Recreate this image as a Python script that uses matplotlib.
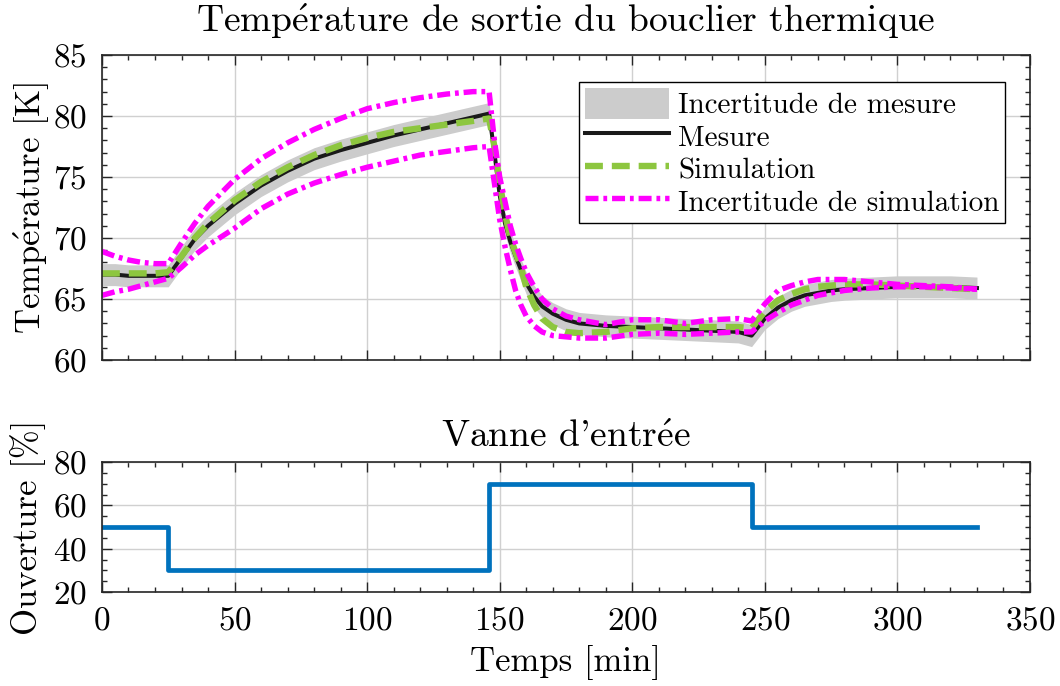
import matplotlib
matplotlib.use('Agg')
import matplotlib.pyplot as plt
from matplotlib.patches import Patch
from matplotlib.ticker import MultipleLocator

plt.rcParams['font.family'] = 'serif'
plt.rcParams['font.serif'] = ['cmr10']
plt.rcParams['mathtext.fontset'] = 'cm'
plt.rcParams['axes.formatter.use_mathtext'] = True

# temps [min]
t = [0, 5, 10, 15, 20, 25, 30, 35, 40, 50, 60, 70, 80, 90, 100, 110, 120, 130, 140, 146,
     148, 150, 152, 154, 156, 158, 160, 163, 166, 170, 175, 180, 190, 200, 210, 220, 230,
     240, 245, 250, 255, 260, 265, 270, 275, 280, 290, 300, 310, 320, 330]

mesure = [67.0, 67.0, 66.9, 66.9, 66.9, 66.9, 68.4, 69.9, 71.0, 72.8, 74.3, 75.5, 76.5, 77.2,
          77.8, 78.4, 78.9, 79.4, 79.9, 80.2,
          77.0, 73.5, 71.2, 69.7, 68.5, 67.4, 66.3, 65.2, 64.4, 63.8, 63.3, 63.0, 62.8, 62.7,
          62.6, 62.5, 62.4, 62.3, 62.0, 63.4, 64.3, 64.9, 65.3, 65.5, 65.7, 65.8, 65.9, 66.0,
          66.0, 66.0, 65.9]
incert_mesure = 0.9

simulation = [67.1, 67.1, 67.1, 67.1, 67.1, 67.2, 68.5, 70.0, 71.2, 73.1, 74.6, 75.8, 76.8,
              77.6, 78.2, 78.7, 79.0, 79.3, 79.6, 79.8,
              77.5, 74.5, 72.0, 70.0, 68.8, 67.6, 66.0, 64.5, 63.4, 62.7, 62.3, 62.2, 62.3,
              62.6, 62.7, 62.7, 62.7, 62.7, 62.6, 64.0, 64.9, 65.4, 65.8, 66.0, 66.1, 66.2,
              66.2, 66.1, 66.0, 65.9, 65.8]

sim_haut = [68.9, 68.5, 68.2, 68.0, 67.9, 67.9, 69.6, 71.2, 72.6, 74.8, 76.5, 77.8, 78.9,
            79.8, 80.6, 81.1, 81.5, 81.8, 82.0, 82.0,
            78.0, 75.0, 73.0, 71.0, 69.5, 68.3, 67.2, 66.0, 65.0, 64.2, 63.6, 63.3, 62.9,
            63.3, 63.3, 63.0, 63.3, 63.4, 63.2, 64.6, 65.7, 66.1, 66.4, 66.6, 66.6, 66.6,
            66.4, 66.2, 66.1, 66.0, 65.8]

sim_bas = [65.3, 65.6, 65.8, 66.1, 66.4, 66.7, 67.6, 68.6, 69.4, 70.8, 72.4, 73.6, 74.5,
           75.2, 75.8, 76.3, 76.8, 77.1, 77.4, 77.5,
           74.5, 71.5, 69.3, 67.4, 65.7, 64.5, 63.6, 62.8, 62.3, 62.0, 61.9, 61.8, 61.8,
           62.1, 62.2, 62.1, 62.2, 62.3, 62.3, 63.2, 63.9, 64.5, 64.9, 65.3, 65.5, 65.7,
           65.9, 66.0, 66.0, 65.9, 65.8]

# vanne d'entree
t_vanne = [0, 25, 146, 245, 330]
vanne = [50, 30, 70, 50, 50]

gris = '#cccccc'
noir = '#1a1a1a'
vert = '#8dc63f'
magenta = '#ff00ff'
bleu = '#0072bd'
tirets_sim = (2.8, 1.4)
tirets_inc = (2.4, 0.9, 0.7, 0.9)

fig = plt.figure(figsize=(10.6, 6.86), dpi=100)
ax1 = fig.add_axes([0.0962, 0.4752, 0.8755, 0.4446])
ax2 = fig.add_axes([0.0962, 0.137, 0.8755, 0.1895])

bas = [m - incert_mesure for m in mesure]
haut = [m + incert_mesure for m in mesure]
ax1.fill_between(t, bas, haut, color=gris, lw=0)
ax1.plot(t, mesure, color=noir, lw=2.9)
ax1.plot(t, simulation, color=vert, lw=4.6, dashes=tirets_sim)
ax1.plot(t, sim_haut, color=magenta, lw=3.9, dashes=tirets_inc)
ax1.plot(t, sim_bas, color=magenta, lw=3.9, dashes=tirets_inc)

handles = [Patch(facecolor=gris, edgecolor='none'),
           plt.Line2D([], [], color=noir, lw=2.9),
           plt.Line2D([], [], color=vert, lw=4.6, dashes=tirets_sim),
           plt.Line2D([], [], color=magenta, lw=3.9, dashes=tirets_inc)]
labels = ['Incertitude de mesure', 'Mesure', 'Simulation', 'Incertitude de simulation']
leg = ax1.legend(handles, labels, loc='upper right', bbox_to_anchor=(0.9735, 0.912),
                 fontsize=21, handlelength=2.9, handleheight=1.25, labelspacing=0.05,
                 handletextpad=0.3, borderpad=0.2, borderaxespad=0, fancybox=False,
                 framealpha=1)
leg.get_frame().set_edgecolor('black')
leg.get_frame().set_linewidth(1.0)

ax1.set_xlim(0, 350)
ax1.set_ylim(60, 85)
ax1.xaxis.set_major_locator(MultipleLocator(50))
ax1.xaxis.set_minor_locator(MultipleLocator(10))
ax1.yaxis.set_major_locator(MultipleLocator(5))
ax1.yaxis.set_minor_locator(MultipleLocator(1))
ax1.set_xticklabels([])
ax1.set_ylabel('Temp$\\mathrm{\\acute{e}}$rature [K]', fontsize=25, labelpad=0.5)
ax1.set_title('Temp$\\mathrm{\\acute{e}}$rature de sortie du bouclier thermique',
              fontsize=27, pad=16.5)

ax2.plot(t_vanne, vanne, color=bleu, lw=3.4, drawstyle='steps-post')
ax2.set_xlim(0, 350)
ax2.set_ylim(20, 80)
ax2.xaxis.set_major_locator(MultipleLocator(50))
ax2.xaxis.set_minor_locator(MultipleLocator(10))
ax2.yaxis.set_major_locator(MultipleLocator(20))
ax2.yaxis.set_minor_locator(MultipleLocator(5))
ax2.set_xlabel('Temps [min]', fontsize=25, labelpad=7)
ax2.set_ylabel('Ouverture [%]', fontsize=25, labelpad=4.5)
ax2.set_title("Vanne d'entr$\\mathrm{\\acute{e}}$e", fontsize=27, pad=11)

for ax in (ax1, ax2):
    ax.grid(True, which='major', color='#d0d0d0', lw=1.0)
    ax.set_axisbelow(True)
    ax.tick_params(which='both', direction='in', top=True, right=True, labelsize=24,
                   color='#262626', width=1.0)
    ax.tick_params(axis='x', pad=10.5)
    ax.tick_params(axis='y', pad=11)
    ax.tick_params(which='major', length=7)
    ax.tick_params(which='minor', length=3.5)
    for s in ax.spines.values():
        s.set_color('#262626')
        s.set_linewidth(1.2)

fig.savefig('out.png', dpi=100)
